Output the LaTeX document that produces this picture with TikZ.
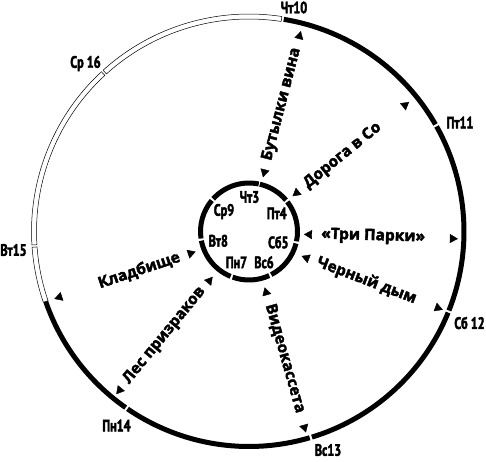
\documentclass[tikz,border=0pt]{standalone}
\usepackage{fontspec}
\newfontfamily\daysfont[FakeStretch=0.74, FakeBold=2.5]{PT Sans}
\newfontfamily\eventfont[FakeBold=2.5]{Open Sans}
\usetikzlibrary{arrows.meta}

\begin{document}
\begin{tikzpicture}[x=1pt, y=1pt,
    dayarc/.style={line width=5pt},
    freearc/.style={draw=black, line width=0.5pt, fill=white},
    daylabel/.style={font=\daysfont\bfseries\fontsize{16.5}{18}\selectfont, inner sep=0pt},
    evlabel/.style={font=\eventfont\bfseries\fontsize{15.5}{17}\selectfont, inner sep=1pt},
    evarrow/.style={draw=white, {Triangle[color=black, length=8pt, width=9pt]}-{Triangle[color=black, length=8pt, width=9pt]}}]
    \useasboundingbox (0,0) rectangle (486,-461);
    \begin{scope}[shift={(249,-231.5)}]
        \def\R{215}
        \def\Ri{212.5}
        \def\Ro{217.5}
        \def\rin{48.5}

        % outer ring, days 10 to 16
        \draw[dayarc] (80.7:\R) arc[start angle=80.7, end angle=29.87, radius=\R];
        \draw[dayarc] (29.27:\R) arc[start angle=29.27, end angle=-21.56, radius=\R];
        \draw[dayarc] (-22.16:\R) arc[start angle=-22.16, end angle=-72.99, radius=\R];
        \draw[dayarc] (-73.59:\R) arc[start angle=-73.59, end angle=-124.41, radius=\R];
        \draw[dayarc] (-125.01:\R) arc[start angle=-125.01, end angle=-161, radius=\R];

        \filldraw[freearc] (-161:\Ri) arc[start angle=-161, end angle=-175.84, radius=\Ri] -- (-175.84:\Ro) arc[start angle=-175.84, end angle=-161, radius=\Ro] -- cycle;
        \filldraw[freearc] (-176.44:\Ri) arc[start angle=-176.44, end angle=-227.27, radius=\Ri] -- (-227.27:\Ro) arc[start angle=-227.27, end angle=-176.44, radius=\Ro] -- cycle;
        \filldraw[freearc] (-227.87:\Ri) arc[start angle=-227.87, end angle=-278.7, radius=\Ri] -- (-278.7:\Ro) arc[start angle=-278.7, end angle=-227.87, radius=\Ro] -- cycle;

        \node[daylabel] (d10) at (45,224) {Чт10};
        \node[daylabel] (d11) at (211,109) {Пт11};
        \node[daylabel] (d12) at (220.5,-91.5) {Сб 12};
        \node[daylabel] (d13) at (79,-218.5) {Вс13};
        \node[daylabel] (d14) at (-132.5,-194) {Пн14};
        \node[daylabel] (d15) at (-235.5,-18.5) {Вт15};
        \node[daylabel] (d16) at (-163.5,168) {Ср 16};

        % inner ring, days 3 to 9
        \draw[dayarc] (77.1:\rin) arc[start angle=77.1, end angle=40.3, radius=\rin];
        \draw[dayarc] (37.7:\rin) arc[start angle=37.7, end angle=-11.7, radius=\rin];
        \draw[dayarc] (-14.3:\rin) arc[start angle=-14.3, end angle=-62.7, radius=\rin];
        \draw[dayarc] (-65.3:\rin) arc[start angle=-65.3, end angle=-109.7, radius=\rin];
        \draw[dayarc] (-112.3:\rin) arc[start angle=-112.3, end angle=-169.1, radius=\rin];
        \draw[dayarc] (-171.7:\rin) arc[start angle=-171.7, end angle=-219.8, radius=\rin];
        \draw[dayarc] (-222.4:\rin) arc[start angle=-222.4, end angle=-281.6, radius=\rin];

        \node[daylabel] (d3) at (0.5,34.5) {Чт3};
        \node[daylabel] (d4) at (27.7,18.2) {Пт4};
        \node[daylabel] (d5) at (29.3,-10.8) {Сб5};
        \node[daylabel] (d6) at (15,-30.8) {Вс6};
        \node[daylabel] (d7) at (-12.5,-30.8) {Пн7};
        \node[daylabel] (d8) at (-30.7,-9.3) {Вт8};
        \node[daylabel] (d9) at (-25,20) {Ср9};

        % events
        \coordinate (wine-in) at (75.5:56);
        \coordinate (wine-out) at (75.5:207);
        \coordinate (road-in) at (39:56);
        \coordinate (road-out) at (39:206);
        \coordinate (parks-in) at (-3:55);
        \coordinate (parks-out) at (-2:209);
        \coordinate (smoke-in) at (-25:58);
        \coordinate (smoke-out) at (-22:209);
        \coordinate (tape-in) at (-74.3:58);
        \coordinate (tape-out) at (-74.2:209);
        \coordinate (forest-in) at (-128.8:58);
        \coordinate (forest-out) at (-129.2:210);
        \coordinate (grave-in) at (-159.3:57);
        \coordinate (grave-out) at (-160.9:206);

        \draw[evarrow] (wine-in) -- (wine-out) node[evlabel, sloped, pos=0.5] (wine) {Бутылки вина};
        \draw[evarrow] (road-in) -- (road-out) node[evlabel, sloped, pos=0.43] (road) {Дорога в Со};
        \draw[evarrow] (parks-in) -- (parks-out) node[evlabel, sloped, pos=0.45] (parks) {«Три Парки»};
        \draw[evarrow] (smoke-in) -- (smoke-out) node[evlabel, sloped, pos=0.46] (smoke) {Черный дым};
        \draw[evarrow] (tape-in) -- (tape-out) node[evlabel, sloped, pos=0.49] (tape) {Видеокассета};
        \draw[evarrow] (forest-in) -- (forest-out) node[evlabel, sloped, pos=0.5] (forest) {Лес призраков};
        \draw[evarrow] (grave-in) -- (grave-out) node[evlabel, sloped, pos=0.4] (grave) {Кладбище};
    \end{scope}
\end{tikzpicture}
\end{document}
